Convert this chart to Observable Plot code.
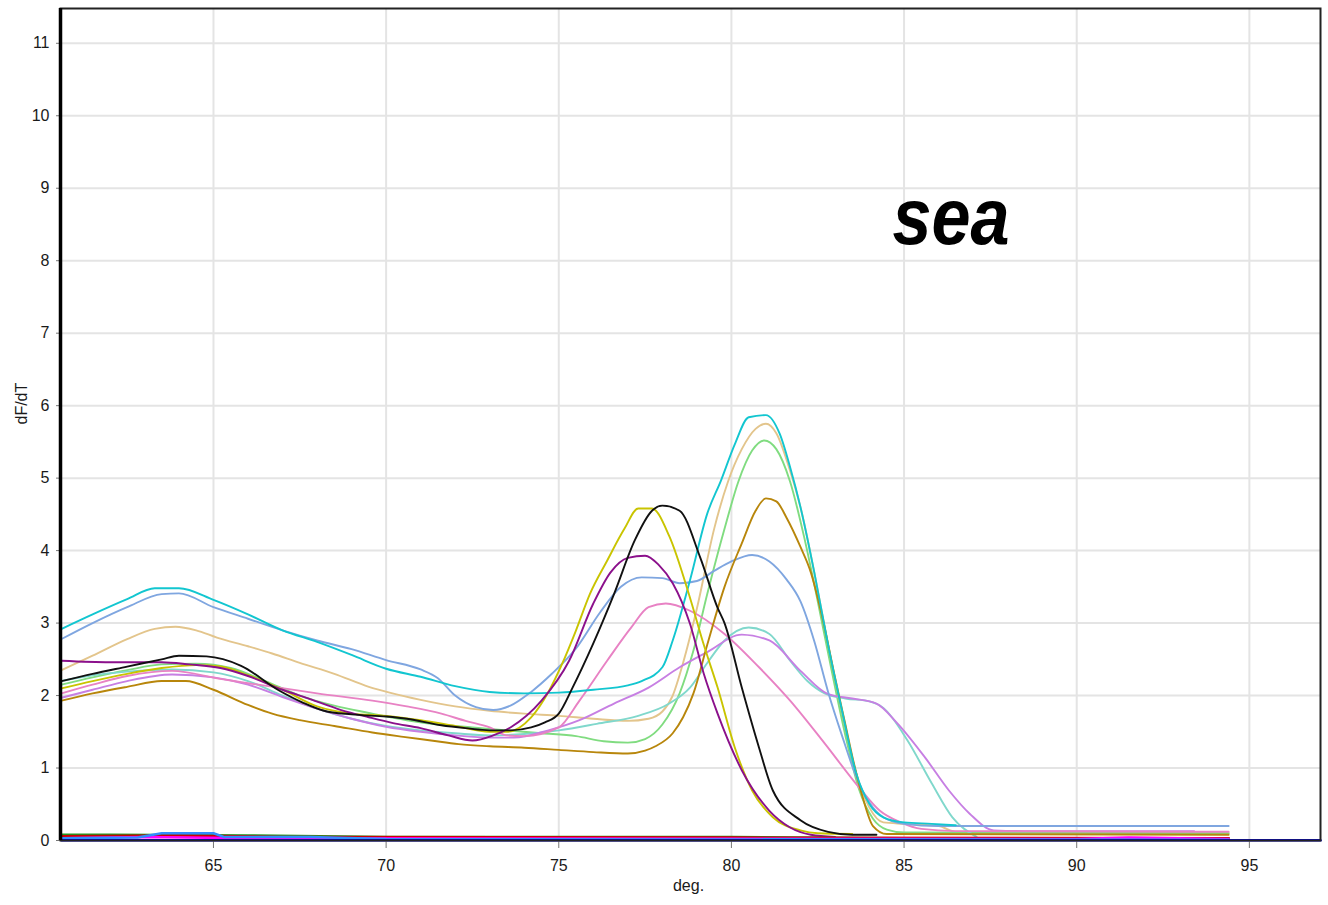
<!DOCTYPE html>
<html><head><meta charset="utf-8">
<script src="https://cdn.jsdelivr.net/npm/d3@7"></script>
<script src="https://cdn.jsdelivr.net/npm/@observablehq/plot@0.6"></script>
<style>body{margin:0;background:#fff;} #chart svg{display:block;}</style>
</head><body><div id="chart"></div>
<script>
// Axis settings
const xDomain = [60.57, 97.06];
const yDomain = [0, 11.48];
const xTicks = [65, 70, 75, 80, 85, 90, 95];
const yTicks = [0, 1, 2, 3, 4, 5, 6, 7, 8, 9, 10, 11];
const xLabel = "deg.";
const yLabel = "dF/dT";
const annotation = "sea";

// Series: [deg, dF/dT]
const s01 = [[60.6,2.35],[61.5,2.55],[62.5,2.78],[63.3,2.92],[63.9,2.95],[64.5,2.9],[65.1,2.8],[66,2.68],[66.7,2.58],[67.5,2.45],[68.5,2.3],[69.5,2.12],[70.1,2.04],[71,1.94],[72,1.85],[73,1.79],[74,1.75],[75,1.72],[76,1.68],[77,1.65],[77.6,1.68],[78,1.78],[78.3,2.0],[78.6,2.45],[79,3.2],[79.5,4.3],[79.9,4.95],[80.3,5.4],[80.7,5.68],[81,5.75],[81.3,5.62],[81.7,5.1],[82,4.6],[82.4,3.7],[82.8,2.7],[83.2,1.75],[83.6,0.95],[84,0.45],[84.4,0.25],[85,0.23],[86,0.2],[86.5,0.12],[94.4,0.1]];
const s02 = [[60.6,2.15],[61.5,2.25],[62.5,2.35],[63.5,2.43],[64.5,2.44],[65.5,2.38],[66.5,2.2],[67.5,2.0],[68.5,1.86],[69.5,1.76],[70.6,1.66],[71.5,1.6],[72.5,1.56],[73.5,1.52],[74.5,1.48],[75.5,1.44],[76.3,1.37],[77,1.35],[77.5,1.4],[78,1.6],[78.5,2.03],[78.9,2.62],[79.3,3.4],[79.8,4.3],[80.2,4.95],[80.6,5.38],[80.95,5.52],[81.3,5.4],[81.7,4.95],[82.1,4.2],[82.5,3.3],[82.9,2.35],[83.3,1.45],[83.7,0.7],[84.1,0.3],[84.5,0.15],[85,0.11],[94.4,0.1]];
const s03 = [[60.6,2.2],[61.5,2.28],[62.5,2.33],[63.8,2.36],[65,2.32],[66,2.2],[67,2.0],[68,1.82],[69,1.68],[70,1.58],[71,1.52],[72,1.48],[73,1.45],[74,1.47],[75,1.52],[76.1,1.61],[77.3,1.72],[78.2,1.89],[78.8,2.11],[79.3,2.45],[79.8,2.76],[80.5,2.94],[81.1,2.85],[81.7,2.48],[82.2,2.2],[82.7,2.03],[83.3,1.96],[84,1.92],[84.4,1.83],[85.1,1.38],[85.8,0.79],[86.4,0.32],[87.1,0.05]];
const s04 = [[60.6,1.97],[61.5,2.08],[62.5,2.2],[63.8,2.29],[65,2.25],[66,2.15],[67,1.98],[68,1.82],[69,1.68],[70,1.57],[71,1.5],[72,1.45],[73,1.42],[73.7,1.42],[74.7,1.52],[75.6,1.66],[76.6,1.89],[77.6,2.11],[78.5,2.39],[79.3,2.6],[80.3,2.84],[81.1,2.76],[82,2.34],[82.8,2.02],[83.5,1.96],[84.2,1.89],[84.8,1.62],[85.6,1.15],[86.3,0.69],[86.9,0.37],[87.6,0.14],[88.5,0.13],[93.4,0.13]];
const s05 = [[60.6,2.03],[61.5,2.15],[62.5,2.27],[63.8,2.34],[65.2,2.23],[66,2.17],[66.9,2.11],[68,2.03],[69.6,1.93],[70.6,1.85],[71.6,1.75],[72.3,1.65],[73,1.56],[73.5,1.45],[74,1.44],[75,1.56],[75.6,1.93],[76.4,2.48],[77.1,2.94],[77.6,3.22],[78.1,3.27],[78.8,3.17],[79.8,2.85],[80.8,2.39],[81.7,1.93],[82.7,1.34],[83.7,0.73],[84.3,0.41],[84.9,0.25],[85.5,0.16],[86.5,0.13],[94.4,0.12]];
const s06 = [[60.6,2.78],[61.5,3.0],[62.5,3.22],[63.5,3.4],[64,3.41],[65,3.22],[66,3.06],[67,2.9],[68,2.76],[69,2.64],[70,2.49],[71,2.36],[71.5,2.24],[72,2.0],[72.6,1.84],[73.1,1.8],[73.6,1.86],[74.2,2.05],[74.8,2.3],[75.5,2.65],[76.2,3.15],[76.8,3.5],[77.4,3.63],[78,3.62],[78.5,3.55],[79,3.58],[79.5,3.72],[80,3.85],[80.6,3.94],[81.1,3.85],[81.6,3.6],[82,3.3],[82.4,2.75],[82.8,2.05],[83.2,1.45],[83.6,0.9],[84,0.52],[84.4,0.32],[85,0.23],[86,0.2],[94.4,0.2]];
const s07 = [[60.6,1.93],[61.5,2.03],[62.5,2.12],[63.5,2.2],[64.2,2.2],[65,2.08],[66,1.87],[66.7,1.75],[67.5,1.66],[68.5,1.58],[69.6,1.49],[70.5,1.43],[71.3,1.38],[72.1,1.33],[73,1.3],[74,1.28],[75,1.25],[76,1.22],[77,1.2],[77.5,1.24],[77.8,1.3],[78.3,1.48],[78.6,1.7],[78.9,2.03],[79.3,2.7],[79.8,3.5],[80.3,4.1],[80.7,4.55],[81.0,4.72],[81.3,4.68],[81.6,4.45],[82.0,4.05],[82.3,3.7],[82.6,3.15],[83.0,2.25],[83.3,1.6],[83.55,1.06],[83.8,0.6],[84.1,0.2],[84.5,0.09],[94.4,0.08]];
const s08 = [[60.6,2.92],[61.5,3.12],[62.5,3.33],[63.3,3.48],[64,3.48],[65,3.32],[66,3.12],[67,2.9],[68,2.74],[69,2.56],[70,2.37],[71,2.26],[72,2.13],[73,2.05],[74,2.03],[75,2.04],[76,2.08],[77,2.14],[77.4,2.2],[78,2.39],[78.3,2.76],[78.8,3.59],[79.3,4.51],[79.7,4.97],[80.1,5.47],[80.5,5.84],[81,5.87],[81.4,5.61],[81.7,5.15],[82.0,4.6],[82.4,3.7],[82.8,2.7],[83.2,1.8],[83.6,0.95],[84.0,0.5],[84.4,0.32],[85,0.25],[85.8,0.23],[86.5,0.21]];
const s09 = [[60.6,2.1],[61.5,2.2],[62.5,2.3],[63.5,2.38],[64.5,2.42],[65.2,2.4],[66,2.28],[67,2.08],[68,1.85],[69,1.75],[70,1.72],[71,1.66],[72,1.58],[73,1.5],[73.5,1.5],[74.2,1.7],[74.7,2.05],[75.1,2.44],[75.5,2.9],[75.9,3.4],[76.4,3.86],[76.9,4.3],[77.3,4.58],[77.7,4.58],[78.2,4.2],[78.8,3.35],[79.2,2.7],[79.6,2.11],[80.1,1.28],[80.6,0.69],[81.2,0.32],[82,0.14],[82.5,0.1],[83.5,0.09]];
const s10 = [[60.6,2.48],[62,2.46],[63.5,2.46],[64.3,2.43],[65.2,2.38],[66,2.27],[67,2.08],[67.8,1.95],[68.7,1.8],[69.5,1.7],[70.2,1.62],[71,1.55],[71.8,1.45],[72.5,1.38],[73.1,1.45],[73.6,1.56],[74.5,1.93],[75.3,2.48],[76.0,3.27],[76.5,3.7],[77,3.9],[77.5,3.93],[77.9,3.8],[78.3,3.55],[78.8,2.99],[79.2,2.3],[79.6,1.75],[80.3,0.97],[81.1,0.41],[81.7,0.18],[82.3,0.08],[83,0.05]];
const s11 = [[60.6,2.2],[61.5,2.3],[62.5,2.4],[63.5,2.5],[64,2.55],[64.8,2.54],[65.8,2.41],[66.9,2.07],[67.6,1.9],[68.2,1.79],[69,1.74],[70,1.71],[70.6,1.68],[71.6,1.59],[72.3,1.55],[73,1.52],[73.6,1.52],[74.2,1.56],[74.6,1.63],[75,1.75],[75.4,2.11],[76.0,2.72],[76.6,3.4],[77.2,4.14],[77.7,4.55],[78.0,4.62],[78.5,4.55],[79.1,3.9],[79.6,3.21],[79.8,3.0],[80.3,2.11],[80.8,1.28],[81.2,0.69],[82,0.28],[82.8,0.12],[83.5,0.08],[84.2,0.08]];
// Negative controls near zero
const n01 = [[60.6,0.08],[62,0.08],[66,0.07],[70,0.05],[80,0.05],[85,0.03],[94.4,0.03]];
const n02 = [[60.6,0.06],[64,0.07],[67,0.05],[80,0.04],[94.4,0.03]];
const n03 = [[60.6,0.03],[63,0.05],[66,0.03],[90,0.02],[91.5,0.04],[94.4,0.02]];
const n04 = [[60.6,0.03],[62.8,0.04],[63.5,0.1],[65,0.1],[65.3,0.05],[67.8,0.05],[70,0.02],[94.4,0.01]];
const n05 = [[60.6,0.005],[97.06,0.005]];

const seriesNames = ["S01","S02","S03","S04","S05","S06","S07","S08","S09","S10","S11","N01","N02","N03","N04","N05"];
const seriesData = [s01,s02,s03,s04,s05,s06,s07,s08,s09,s10,s11,n01,n02,n03,n04,n05];
const seriesColors = ["#e3c58c","#80dc80","#80d8cc","#c77fe3","#e882c4","#7fa6e0","#b8860b","#12c6d0","#c9c400","#8b108b","#111111","#1f9a1f","#cc0000","#ff00ff","#2f8cff","#0000e0"];

const rows = [];
seriesNames.forEach((name, i) => {
  seriesData[i].forEach(([deg, v]) => rows.push({series: name, deg, v, nc: name.startsWith("N")}));
});

const font = "'Liberation Sans', Arial, Helvetica, sans-serif";

const chart = Plot.plot({
  width: 1328,
  height: 905,
  marginLeft: 60,
  marginRight: 8,
  marginTop: 8,
  marginBottom: 65,
  style: {fontFamily: font, background: "#fff"},
  x: {domain: xDomain},
  y: {domain: yDomain},
  color: {type: "ordinal", domain: seriesNames, range: seriesColors},
  marks: [
    Plot.gridX({ticks: xTicks, stroke: "#e4e4e4", strokeOpacity: 1, strokeWidth: 2}),
    Plot.gridY({ticks: yTicks, stroke: "#e4e4e4", strokeOpacity: 1, strokeWidth: 2}),
    Plot.line(rows.filter(d => !d.nc), {x: "deg", y: "v", z: "series", stroke: "series", curve: "monotone-x", strokeWidth: 1.9}),
    Plot.line(rows.filter(d => d.nc), {x: "deg", y: "v", z: "series", stroke: "series", curve: "linear", strokeWidth: 2.5}),
    Plot.axisX({ticks: xTicks, tickSize: 8, tickPadding: 11, fontSize: 16, stroke: "#777", fill: "#1a1a1a", label: null}),
    Plot.axisY({ticks: yTicks, tickSize: 4, tickPadding: 7, fontSize: 16, stroke: "#777", fill: "#1a1a1a", label: null}),
    Plot.frame({stroke: "#222", strokeWidth: 2}),
    Plot.ruleX([xDomain[0]], {stroke: "#000", strokeWidth: 3.5}),
    Plot.text([yLabel], {text: d => d, frameAnchor: "left", dx: -39, rotate: -90, fontSize: 16, fill: "#1a1a1a"}),
    Plot.text([xLabel], {text: d => d, frameAnchor: "bottom", dx: -2, dy: 50, fontSize: 16, fill: "#1a1a1a"}),
    Plot.text([{t: annotation, x: 86.36, y: 8.59}], {text: "t", x: "x", y: "y", fontSize: 80, fontWeight: "bold", fontStyle: "italic", fill: "#000"})
  ]
});

d3.select(chart).selectAll("text").filter(function() { return this.textContent === annotation; })
  .attr("textLength", 117).attr("lengthAdjust", "spacingAndGlyphs");

document.getElementById("chart").appendChild(chart);
</script>
</body></html>
